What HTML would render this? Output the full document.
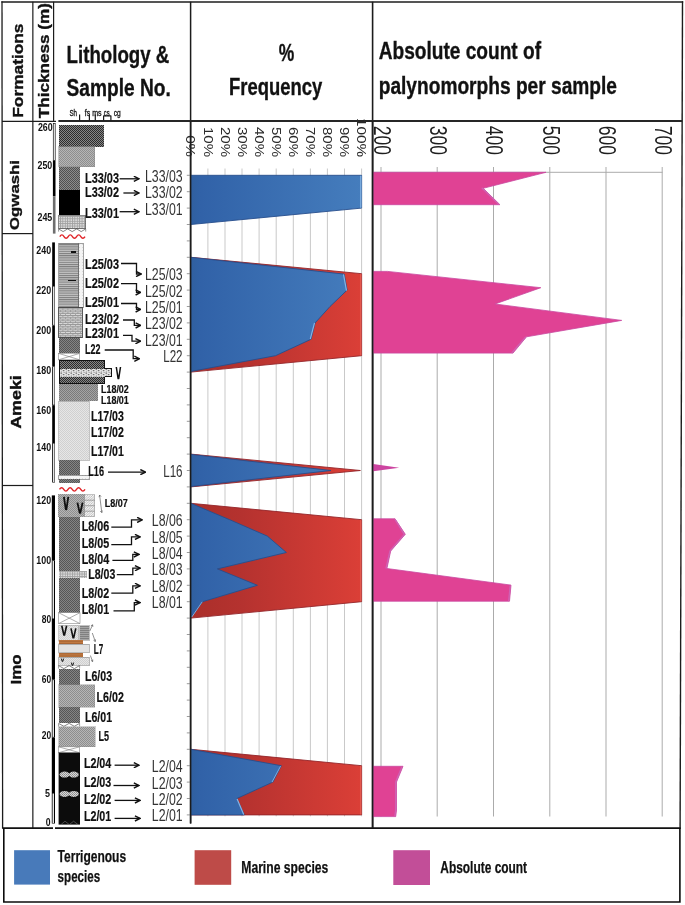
<!DOCTYPE html>
<html><head><meta charset="utf-8"><title>Chart</title>
<style>
html,body{margin:0;padding:0;background:#fff;}
svg{display:block;will-change:transform;}
text{font-family:"Liberation Sans",sans-serif;}
.b{font-weight:bold;}
.h{font-weight:bold;stroke:#111;stroke-width:0.35px;}
</style></head><body>
<svg width="685" height="905" viewBox="0 0 685 905">
<defs>
<linearGradient id="gb" gradientUnits="userSpaceOnUse" x1="190.8" y1="0" x2="361.6" y2="0">
<stop offset="0" stop-color="#30609f"/><stop offset="0.06" stop-color="#3162a8"/><stop offset="1" stop-color="#457dbd"/></linearGradient>
<linearGradient id="gr" gradientUnits="userSpaceOnUse" x1="190.8" y1="0" x2="361.6" y2="0">
<stop offset="0" stop-color="#aa2f2a"/><stop offset="0.3" stop-color="#b5322f"/><stop offset="1" stop-color="#db3f37"/></linearGradient>
<pattern id="pDark" width="2" height="2" patternUnits="userSpaceOnUse"><rect width="2" height="2" fill="#868686"/><rect width="1" height="1" fill="#2c2c2c"/><rect x="1" y="1" width="1" height="1" fill="#2c2c2c"/></pattern>
<pattern id="pLight" width="2" height="2" patternUnits="userSpaceOnUse"><rect width="2" height="2" fill="#b6b6b6"/><rect width="1" height="1" fill="#8e8e8e"/><rect x="1" y="1" width="1" height="1" fill="#8e8e8e"/></pattern>
<pattern id="pMed" width="2" height="2" patternUnits="userSpaceOnUse"><rect width="2" height="2" fill="#8c8c8c"/><rect width="1" height="1" fill="#505050"/><rect x="1" y="1" width="1" height="1" fill="#505050"/></pattern>
<pattern id="pMed2" width="2" height="2" patternUnits="userSpaceOnUse"><rect width="2" height="2" fill="#848484"/><rect width="1" height="1" fill="#565656"/><rect x="1" y="1" width="1" height="1" fill="#565656"/></pattern>
<pattern id="pGrid" width="2.4" height="2.4" patternUnits="userSpaceOnUse"><rect width="2.4" height="2.4" fill="#e2e2e2"/><rect width="2.4" height="0.9" fill="#a0a0a0"/><rect width="0.9" height="2.4" fill="#a0a0a0"/></pattern>
<pattern id="pHl" width="4" height="2.2" patternUnits="userSpaceOnUse"><rect width="4" height="2.2" fill="#c4c4c4"/><rect width="4" height="1" fill="#7a7a7a"/></pattern>
<pattern id="pBrick" width="5" height="3.6" patternUnits="userSpaceOnUse"><rect width="5" height="3.6" fill="#dcdcdc"/><rect width="5" height="0.8" fill="#8c8c8c"/><rect y="1.8" width="5" height="0.8" fill="#8c8c8c"/><rect x="0" width="0.8" height="1.8" fill="#999"/><rect x="2.5" y="1.8" width="0.8" height="1.8" fill="#999"/></pattern>
<pattern id="pDot" width="3" height="3" patternUnits="userSpaceOnUse"><rect width="3" height="3" fill="#f4f4f4"/><rect x="1" y="1" width="0.8" height="0.8" fill="#cfcfcf"/></pattern>
<pattern id="pVLight" width="2" height="2" patternUnits="userSpaceOnUse"><rect width="2" height="2" fill="#e6e6e6"/><rect width="1" height="1" fill="#d0d0d0"/><rect x="1" y="1" width="1" height="1" fill="#d0d0d0"/></pattern>
<pattern id="pStripe" width="4" height="2" patternUnits="userSpaceOnUse"><rect width="4" height="2" fill="#a4a4a4"/><rect width="4" height="1" fill="#808080"/></pattern>
<pattern id="pMid" width="2" height="2" patternUnits="userSpaceOnUse"><rect width="2" height="2" fill="#a4a4a4"/><rect width="1" height="1" fill="#7a7a7a"/><rect x="1" y="1" width="1" height="1" fill="#7a7a7a"/></pattern>
<pattern id="pHatch" width="2.4" height="2.4" patternUnits="userSpaceOnUse"><rect width="2.4" height="2.4" fill="#f6f6f6"/><path d="M-0.6 0.6L0.6 -0.6M0 2.4L2.4 0M1.8 3L3 1.8" stroke="#999" stroke-width="0.6"/></pattern>
<pattern id="pNod" width="2" height="2" patternUnits="userSpaceOnUse"><rect width="2" height="2" fill="#d8d8d8"/><rect width="1" height="1" fill="#8a8a8a"/><rect x="1" y="1" width="1" height="1" fill="#9a9a9a"/></pattern>
<pattern id="pX" width="4" height="4" patternUnits="userSpaceOnUse"><rect width="4" height="4" fill="#f4f4f4"/><path d="M0 0L4 4M4 0L0 4" stroke="#999" stroke-width="0.7"/></pattern>
<pattern id="pSpeck" width="5" height="4" patternUnits="userSpaceOnUse"><rect width="5" height="4" fill="#e8e8e8"/><rect x="0.5" y="0.6" width="1.6" height="1" fill="#4a4a4a"/><rect x="2.8" y="2.2" width="1.6" height="1" fill="#555"/><rect x="3.6" y="0.2" width="1" height="0.8" fill="#777"/><rect x="0.8" y="2.8" width="1" height="0.8" fill="#888"/></pattern>
<marker id="ah" viewBox="0 0 10 10" refX="8.5" refY="5" markerWidth="5" markerHeight="5" orient="auto-start-reverse"><path d="M1 1L9 5L1 9" fill="none" stroke="#111" stroke-width="2.2"/></marker>
</defs>
<rect width="685" height="905" fill="#fff"/>

<g stroke="#1c1c1c" fill="none">
<path d="M1.4 1.9H683.2" stroke-width="1.5"/>
<path d="M2.0 1.2L2.6 828.4" stroke-width="1.3"/>
<path d="M682.5 1.2L680.1 828.4" stroke-width="1.4"/>
<path d="M32.85 1.8V828" stroke-width="1.2"/>
<path d="M53.6 1.8V121.5" stroke-width="1.2"/>
<path d="M190.6 1.8V823.5" stroke-width="1.5"/>
<path d="M372.6 1.8V828" stroke-width="1.6"/>
<path d="M2 121.3H56" stroke-width="1.2"/>
<path d="M2 233.6H33" stroke-width="1.2"/>
<path d="M2 485.5H33" stroke-width="1.2"/>
<path d="M2.4 828.1H53 M55 828.1H680.6" stroke-width="1.6" stroke="#111"/>
<path d="M3.8 828V902H679.9V828" stroke-width="1.6" stroke="#0c0c0c"/>
</g>
<path d="M58.4 121H682" stroke="#262626" stroke-width="2"/>
<text class="h" transform="translate(23 117.7) rotate(-90)" font-size="14.4" textLength="94.2" lengthAdjust="spacingAndGlyphs" fill="#111">Formations</text>
<text class="h" transform="translate(49.2 118.2) rotate(-90)" font-size="14.4" textLength="115.2" lengthAdjust="spacingAndGlyphs" fill="#111">Thickness (m)</text>
<text class="h" transform="translate(19 230) rotate(-90)" font-size="13.6" textLength="70" lengthAdjust="spacingAndGlyphs" fill="#111">Ogwashi</text>
<text class="h" transform="translate(21 428.8) rotate(-90)" font-size="14.4" textLength="53.6" lengthAdjust="spacingAndGlyphs" fill="#111">Ameki</text>
<text class="h" transform="translate(21 684.5) rotate(-90)" font-size="14.4" textLength="30" lengthAdjust="spacingAndGlyphs" fill="#111">Imo</text>
<text class="h" x="66.6" y="63.0" font-size="24.2" textLength="102.7" lengthAdjust="spacingAndGlyphs" fill="#111" text-anchor="start">Lithology &amp;</text>
<text class="h" x="66.6" y="96.3" font-size="24.2" textLength="104.2" lengthAdjust="spacingAndGlyphs" fill="#111" text-anchor="start">Sample No.</text>
<text class="h" x="278.7" y="60.5" font-size="24.2" textLength="15.5" lengthAdjust="spacingAndGlyphs" fill="#111" text-anchor="start">%</text>
<text class="h" x="229.1" y="94.8" font-size="24.2" textLength="93.2" lengthAdjust="spacingAndGlyphs" fill="#111" text-anchor="start">Frequency</text>
<text class="h" x="378.7" y="59.2" font-size="24.4" textLength="162.3" lengthAdjust="spacingAndGlyphs" fill="#111" text-anchor="start">Absolute count of</text>
<text class="h" x="378.7" y="94.2" font-size="24.4" textLength="238.3" lengthAdjust="spacingAndGlyphs" fill="#111" text-anchor="start">palynomorphs per sample</text>
<g font-size="8.8" fill="#111" stroke="#111" stroke-width="0.3">
<text x="69.4" y="115.8" textLength="7.6" lengthAdjust="spacingAndGlyphs">Sh</text>
<text x="84.8" y="115.8" textLength="5.4" lengthAdjust="spacingAndGlyphs">fs</text>
<text x="92.2" y="115.8" textLength="9.4" lengthAdjust="spacingAndGlyphs">ms</text>
<text x="103.8" y="115.8" textLength="5.8" lengthAdjust="spacingAndGlyphs">cs</text>
<text x="113.8" y="115.8" textLength="7" lengthAdjust="spacingAndGlyphs">cg</text>
</g>
<path d="M79.6 114.6V120.5M89.4 114.6V120.5M95.3 114.6V120.5M103.6 115.4V120.5M110.9 115.4V120.5M103.6 115.9H110.9" stroke="#1a1a1a" stroke-width="1.2" fill="none"/>
<g stroke="#c9c9c9" stroke-width="1">
<path d="M207.9 168.5V816.3"/>
<path d="M225.0 168.5V816.3"/>
<path d="M242.0 168.5V816.3"/>
<path d="M259.1 168.5V816.3"/>
<path d="M276.2 168.5V816.3"/>
<path d="M293.3 168.5V816.3"/>
<path d="M310.4 168.5V816.3"/>
<path d="M327.4 168.5V816.3"/>
<path d="M344.5 168.5V816.3"/>
<path d="M361.6 168.5V816.3"/>
</g>
<g stroke="#9c9c9c" stroke-width="1">
<path d="M186.8 175.3H190.6"/>
<path d="M186.8 191.7H190.6"/>
<path d="M186.8 208.1H190.6"/>
<path d="M186.8 224.5H190.6"/>
<path d="M186.8 240.9H190.6"/>
<path d="M186.8 257.3H190.6"/>
<path d="M186.8 273.7H190.6"/>
<path d="M186.8 290.1H190.6"/>
<path d="M186.8 306.5H190.6"/>
<path d="M186.8 322.9H190.6"/>
<path d="M186.8 339.3H190.6"/>
<path d="M186.8 355.7H190.6"/>
<path d="M186.8 372.1H190.6"/>
<path d="M186.8 388.5H190.6"/>
<path d="M186.8 404.9H190.6"/>
<path d="M186.8 421.3H190.6"/>
<path d="M186.8 437.7H190.6"/>
<path d="M186.8 454.1H190.6"/>
<path d="M186.8 470.5H190.6"/>
<path d="M186.8 486.9H190.6"/>
<path d="M186.8 503.3H190.6"/>
<path d="M186.8 519.7H190.6"/>
<path d="M186.8 536.1H190.6"/>
<path d="M186.8 552.5H190.6"/>
<path d="M186.8 568.9H190.6"/>
<path d="M186.8 585.3H190.6"/>
<path d="M186.8 601.7H190.6"/>
<path d="M186.8 618.1H190.6"/>
<path d="M186.8 634.5H190.6"/>
<path d="M186.8 650.9H190.6"/>
<path d="M186.8 667.3H190.6"/>
<path d="M186.8 683.7H190.6"/>
<path d="M186.8 700.1H190.6"/>
<path d="M186.8 716.5H190.6"/>
<path d="M186.8 732.9H190.6"/>
<path d="M186.8 749.3H190.6"/>
<path d="M186.8 765.7H190.6"/>
<path d="M186.8 782.1H190.6"/>
<path d="M186.8 798.5H190.6"/>
<path d="M186.8 814.9H190.6"/>
</g>
<text transform="translate(186.4 157) rotate(90)" text-anchor="end" font-size="12.6" textLength="21.8" lengthAdjust="spacingAndGlyphs" fill="#2a2a2a">0%</text>
<text transform="translate(203.5 157) rotate(90)" text-anchor="end" font-size="12.6" textLength="30" lengthAdjust="spacingAndGlyphs" fill="#2a2a2a">10%</text>
<text transform="translate(220.6 157) rotate(90)" text-anchor="end" font-size="12.6" textLength="30" lengthAdjust="spacingAndGlyphs" fill="#2a2a2a">20%</text>
<text transform="translate(237.6 157) rotate(90)" text-anchor="end" font-size="12.6" textLength="30" lengthAdjust="spacingAndGlyphs" fill="#2a2a2a">30%</text>
<text transform="translate(254.7 157) rotate(90)" text-anchor="end" font-size="12.6" textLength="30" lengthAdjust="spacingAndGlyphs" fill="#2a2a2a">40%</text>
<text transform="translate(271.8 157) rotate(90)" text-anchor="end" font-size="12.6" textLength="30" lengthAdjust="spacingAndGlyphs" fill="#2a2a2a">50%</text>
<text transform="translate(288.9 157) rotate(90)" text-anchor="end" font-size="12.6" textLength="30" lengthAdjust="spacingAndGlyphs" fill="#2a2a2a">60%</text>
<text transform="translate(306.0 157) rotate(90)" text-anchor="end" font-size="12.6" textLength="30" lengthAdjust="spacingAndGlyphs" fill="#2a2a2a">70%</text>
<text transform="translate(323.0 157) rotate(90)" text-anchor="end" font-size="12.6" textLength="30" lengthAdjust="spacingAndGlyphs" fill="#2a2a2a">80%</text>
<text transform="translate(340.1 157) rotate(90)" text-anchor="end" font-size="12.6" textLength="30" lengthAdjust="spacingAndGlyphs" fill="#2a2a2a">90%</text>
<text transform="translate(357.2 157) rotate(90)" text-anchor="end" font-size="12.6" textLength="39" lengthAdjust="spacingAndGlyphs" fill="#2a2a2a">100%</text>
<polygon points="190.8,175.3 361.6,175.3 361.6,208.1 190.8,224.5" fill="url(#gb)" stroke="#274e8c" stroke-width="0.9" stroke-linejoin="round"/>
<path d="M360.8 175.8V207.8" stroke="#7fb0e0" stroke-width="1.4"/>
<polygon points="190.8,257.3 361.6,273.7 361.6,355.7 190.8,372.1" fill="url(#gr)" stroke="#94262a" stroke-width="0.9" stroke-linejoin="round"/>
<polygon points="190.8,257.3 344.2,274.1 347.1,290.1 330.0,306.5 315.1,322.9 311.0,339.3 275.5,355.7 190.8,371.5" fill="url(#gb)" stroke="#274e8c" stroke-width="0.9" stroke-linejoin="round"/>
<polygon points="190.8,454.1 360.4,470.5 190.8,486.9" fill="url(#gr)" stroke="#94262a" stroke-width="0.9" stroke-linejoin="round"/>
<polygon points="190.8,454.4 331.0,470.5 190.8,486.5" fill="url(#gb)" stroke="#274e8c" stroke-width="0.9" stroke-linejoin="round"/>
<polygon points="190.8,503.3 361.6,519.7 361.6,601.7 190.8,618.1" fill="url(#gr)" stroke="#94262a" stroke-width="0.9" stroke-linejoin="round"/>
<polygon points="190.8,503.3 229.7,519.7 267.3,536.1 286.4,552.5 217.4,568.9 257.4,585.3 202.6,601.7 190.8,617.6" fill="url(#gb)" stroke="#274e8c" stroke-width="0.9" stroke-linejoin="round"/>
<polygon points="190.8,749.3 361.6,765.7 361.6,814.9 190.8,814.9" fill="url(#gr)" stroke="#94262a" stroke-width="0.9" stroke-linejoin="round"/>
<polygon points="190.8,749.3 281.3,765.7 272.8,782.1 236.9,798.5 244.3,814.9 190.8,814.9" fill="url(#gb)" stroke="#274e8c" stroke-width="0.9" stroke-linejoin="round"/>
<path d="M343.6 274.9L346.4 290.1" stroke="#86b4e4" stroke-width="1.2" fill="none" stroke-linecap="round"/>
<path d="M314.4 323.4L310.4 338.7" stroke="#86b4e4" stroke-width="1.2" fill="none" stroke-linecap="round"/>
<path d="M237.2 799.3L243.5 814.1" stroke="#86b4e4" stroke-width="1.2" fill="none" stroke-linecap="round"/>
<path d="M280.4 766.5L272.2 781.8" stroke="#86b4e4" stroke-width="0.9" fill="none" stroke-linecap="round"/>
<path d="M202.0 602.1L192.0 616.7" stroke="#86b4e4" stroke-width="0.9" fill="none" stroke-linecap="round"/>
<path d="M360.9 274.5L360.9 354.9" stroke="#ec6a5e" stroke-width="1.0" fill="none" stroke-linecap="round"/>
<path d="M360.9 520.5L360.9 600.9" stroke="#ec6a5e" stroke-width="1.0" fill="none" stroke-linecap="round"/>
<path d="M360.9 766.5L360.9 814.1" stroke="#ec6a5e" stroke-width="1.0" fill="none" stroke-linecap="round"/>
<path d="M190.6 121V823.5" stroke="#1c1c1c" stroke-width="1.5"/>
<g stroke="#a6a6a6" stroke-width="0.95">
<path d="M381.0 167V816.5"/>
<path d="M437.2 167V816.5"/>
<path d="M493.5 167V816.5"/>
<path d="M549.8 167V816.5"/>
<path d="M606.0 167V816.5"/>
<path d="M662.2 167V816.5"/>
<path d="M373 172.3H662.5"/>
</g>
<text transform="translate(373.8 125.7) rotate(90)" font-size="23.6" textLength="29.3" lengthAdjust="spacingAndGlyphs" fill="#1e1e1e">200</text>
<text transform="translate(430.1 125.7) rotate(90)" font-size="23.6" textLength="29.3" lengthAdjust="spacingAndGlyphs" fill="#1e1e1e">300</text>
<text transform="translate(486.3 125.7) rotate(90)" font-size="23.6" textLength="29.3" lengthAdjust="spacingAndGlyphs" fill="#1e1e1e">400</text>
<text transform="translate(542.5 125.7) rotate(90)" font-size="23.6" textLength="29.3" lengthAdjust="spacingAndGlyphs" fill="#1e1e1e">500</text>
<text transform="translate(598.8 125.7) rotate(90)" font-size="23.6" textLength="29.3" lengthAdjust="spacingAndGlyphs" fill="#1e1e1e">600</text>
<text transform="translate(655.0 125.7) rotate(90)" font-size="23.6" textLength="29.3" lengthAdjust="spacingAndGlyphs" fill="#1e1e1e">700</text>
<polygon points="373.2,172.3 546.0,172.3 483.2,188.3 499.9,204.7 373.2,204.7" fill="#e04294" stroke="#c9479f" stroke-width="0.8" stroke-linejoin="round"/>
<polygon points="373.2,271.4 387.5,271.4 540.8,287.7 495.0,304.0 621.7,320.4 526.5,336.8 513.0,353.1 373.2,353.1" fill="#e04294" stroke="#c9479f" stroke-width="0.8" stroke-linejoin="round"/>
<polygon points="373.2,463.9 399.2,467.7 373.2,471.2" fill="#cc44a0" />
<polygon points="373.2,518.8 395.0,518.8 405.3,534.3 390.7,551.0 386.9,568.5 511.0,585.1 509.5,601.2 373.2,601.2" fill="#e04294" stroke="#c9479f" stroke-width="0.8" stroke-linejoin="round"/>
<polygon points="373.2,766.3 403.0,766.3 396.5,782.0 396.5,810.0 395.7,816.6 373.2,816.6" fill="#e04294" stroke="#c9479f" stroke-width="0.8" stroke-linejoin="round"/>
<path d="M482.2 188.3L498.7 204.2" stroke="#cf62b4" stroke-width="1.3" fill="none" stroke-linecap="round"/>
<path d="M525.5 337.2L512.0 352.6" stroke="#cf62b4" stroke-width="1.3" fill="none" stroke-linecap="round"/>
<path d="M395.0 519.4L404.3 534.3L389.9 551.0L386.1 568.0" stroke="#cf62b4" stroke-width="1.3" fill="none" stroke-linecap="round"/>
<path d="M510.2 585.8L508.7 600.6" stroke="#cf62b4" stroke-width="1.3" fill="none" stroke-linecap="round"/>
<path d="M401.8 767.0L395.7 782.0L395.7 810.0L394.9 816.0" stroke="#cf62b4" stroke-width="1.3" fill="none" stroke-linecap="round"/>
<path d="M372.6 121V828" stroke="#1c1c1c" stroke-width="1.6"/><g shape-rendering="crispEdges">
<rect x="58.6" y="125.0" width="45.6" height="21.5" fill="url(#pDark)"/>
<rect x="58.6" y="146.5" width="36.3" height="20.2" fill="url(#pLight)" stroke="#8a8a8a" stroke-width="0.5"/>
<rect x="58.6" y="166.7" width="21.0" height="23.1" fill="url(#pMed)"/>
<rect x="58.6" y="189.8" width="21.2" height="25.4" fill="#000"/>
<rect x="58.6" y="215.8" width="27.1" height="12.9" fill="url(#pGrid)" stroke="#555" stroke-width="0.7"/>
</g>
<path d="M58.6 228.9L63.1 231.6L67.6 228.9L72.2 231.6L76.7 228.9L81.2 231.6L85.7 228.9" stroke="#333" stroke-width="0.6" fill="none"/>
<path d="M58.6 228.9V231.6M85.7 228.9V231.6" stroke="#555" stroke-width="0.6"/>
<path d="M59.8 236.6q2.10 -3.4 4.20 0t4.20 0q2.10 -3.4 4.20 0t4.20 0q2.10 -3.4 4.20 0t4.20 0" stroke="#e02226" stroke-width="1.4" fill="none"/>
<g shape-rendering="crispEdges">
<rect x="58.6" y="243.3" width="20.0" height="64.0" fill="url(#pHl)" stroke="#666" stroke-width="0.6"/>
<rect x="78.6" y="243.3" width="4.7" height="64.0" fill="url(#pDot)" stroke="#666" stroke-width="0.6"/>
<path d="M70.9 252H75.8M68.3 280.5H75.6" stroke="#111" stroke-width="1.4"/>
<rect x="58.6" y="307.6" width="23.8" height="29.9" fill="url(#pBrick)" stroke="#333" stroke-width="0.8"/>
<rect x="58.6" y="337.5" width="21.0" height="15.7" fill="url(#pMed2)"/>
</g>
<rect x="58.6" y="353.4" width="21.0" height="6.4" fill="#fff" stroke="#888" stroke-width="0.6"/>
<path d="M58.6 353.4L79.6 359.8M79.6 353.4L58.6 359.8" stroke="#777" stroke-width="0.6"/>
<g shape-rendering="crispEdges">
<rect x="59.2" y="360.6" width="45.2" height="22.6" fill="url(#pDark)" stroke="#111" stroke-width="1.4"/>
<rect x="60.4" y="368.6" width="50.8" height="8.3" fill="url(#pSpeck)"/>
<path d="M104.6 368.8H111.4V376.8H104.6" stroke="#111" stroke-width="1.1" fill="none"/>
<rect x="58.6" y="384.0" width="39.1" height="17.2" fill="url(#pMid)"/>
<rect x="58.6" y="401.4" width="30.4" height="58.7" fill="url(#pVLight)" stroke="#999" stroke-width="0.6"/>
<rect x="58.6" y="460.1" width="21.0" height="14.9" fill="url(#pMed2)"/>
<rect x="58.6" y="475.3" width="30.4" height="3.9" fill="url(#pDot)" stroke="#666" stroke-width="0.6"/>
<rect x="58.6" y="479.4" width="21.0" height="3.7" fill="url(#pMed2)"/>
</g>
<path d="M116.3 367.0L118.1 378.6L118.7 378.6L120.5 367.0" stroke="#111" stroke-width="1.5" fill="none" stroke-linejoin="round"/>
<path d="M59.5 489.4q2.12 -3.4 4.25 0t4.25 0q2.12 -3.4 4.25 0t4.25 0q2.12 -3.4 4.25 0t4.25 0" stroke="#e02226" stroke-width="1.4" fill="none"/>
<g shape-rendering="crispEdges">
<rect x="58.3" y="494.3" width="26.5" height="22.7" fill="url(#pLight)"/>
<rect x="84.8" y="494.6" width="10.0" height="22.2" fill="url(#pHatch)" stroke="#999" stroke-width="0.6"/>
<rect x="58.6" y="516.8" width="21.0" height="54.1" fill="url(#pMed2)"/>
<rect x="58.6" y="570.9" width="28.6" height="7.0" fill="url(#pGrid)"/>
<rect x="58.6" y="577.9" width="21.0" height="34.6" fill="url(#pMed2)"/>
</g>
<path d="M84.8 500.2H94.8M84.8 505.7H94.8M84.8 511.2H94.8" stroke="#888" stroke-width="0.7"/>
<path d="M63.9 496.8L65.8 509.4L66.4 509.4L68.3 496.8" stroke="#111" stroke-width="1.8" fill="none" stroke-linejoin="round"/>
<path d="M77.4 502.6L79.7 512.8L80.3 512.8L82.6 502.6" stroke="#111" stroke-width="1.8" fill="none" stroke-linejoin="round"/>
<rect x="58.6" y="612.7" width="21.4" height="10.9" fill="#fff" stroke="#888" stroke-width="0.6"/>
<path d="M58.6 612.7L80 623.6M80 612.7L58.6 623.6" stroke="#777" stroke-width="0.6"/>
<g shape-rendering="crispEdges">
<rect x="58.6" y="625.1" width="19.9" height="14.9" fill="url(#pVLight)" stroke="#999" stroke-width="0.5"/>
<rect x="79.6" y="625.8" width="9.4" height="14.2" fill="url(#pStripe)" stroke="#888" stroke-width="0.5"/>
<rect x="58.6" y="640.2" width="24.4" height="4.4" fill="#c47c44"/>
<rect x="58.6" y="644.4" width="30.4" height="7.7" fill="#e2e2e2" stroke="#888" stroke-width="0.6"/>
<rect x="58.6" y="652.6" width="24.4" height="4.6" fill="#c47c44"/>
<rect x="58.6" y="657.1" width="30.4" height="8.1" fill="url(#pVLight)" stroke="#888" stroke-width="0.6"/>
</g>
<path d="M58.6 641.2H83M58.6 643.4H83M58.6 653.8H83M58.6 656H83" stroke="#8e5226" stroke-width="0.6"/>
<path d="M61.8 625.8L63.9 635.0L64.5 635.0L66.6 625.8" stroke="#111" stroke-width="1.6" fill="none" stroke-linejoin="round"/>
<path d="M71.0 628.4L73.1 637.7L73.7 637.7L75.8 628.4" stroke="#111" stroke-width="1.6" fill="none" stroke-linejoin="round"/>
<path d="M61.4 658.6L62.2 661.4L62.8 661.4L63.6 658.6" stroke="#111" stroke-width="1" fill="none" stroke-linejoin="round"/>
<path d="M71.4 662.6L72.2 665.4L72.8 665.4L73.6 662.6" stroke="#111" stroke-width="1" fill="none" stroke-linejoin="round"/>
<path d="M58.6 665.6L63.9 668.6L69.1 665.6L74.3 668.6L79.6 665.6" stroke="#333" stroke-width="0.6" fill="none"/>
<path d="M58.6 665.6V668.6M79.6 665.6V668.6" stroke="#555" stroke-width="0.6"/>
<g shape-rendering="crispEdges">
<rect x="58.6" y="668.9" width="21.0" height="16.0" fill="url(#pMed2)"/>
<rect x="58.6" y="684.9" width="36.3" height="22.4" fill="url(#pLight)" stroke="#8a8a8a" stroke-width="0.4"/>
<rect x="58.6" y="707.3" width="21.0" height="15.9" fill="url(#pMed2)"/>
</g>
<path d="M58.6 723.4L63.9 726.3L69.1 723.4L74.3 726.3L79.6 723.4" stroke="#333" stroke-width="0.6" fill="none"/>
<path d="M58.6 723.4V726.3M79.6 723.4V726.3" stroke="#555" stroke-width="0.6"/>
<g shape-rendering="crispEdges">
<rect x="58.6" y="726.5" width="36.7" height="20.1" fill="url(#pLight)" stroke="#8a8a8a" stroke-width="0.4"/>
</g>
<rect x="58.6" y="746.8" width="21.0" height="5.9" fill="#fff" stroke="#888" stroke-width="0.6"/>
<path d="M58.6 746.8L79.6 752.7M79.6 746.8L58.6 752.7" stroke="#777" stroke-width="0.6"/>
<rect x="58.6" y="752.7" width="21.4" height="71.9" fill="#0c0c0c"/>
<ellipse cx="64.6" cy="774.6" rx="5" ry="3" fill="url(#pNod)"/>
<ellipse cx="73.8" cy="774.6" rx="5" ry="3" fill="url(#pNod)"/>
<ellipse cx="64.6" cy="793.9" rx="5" ry="3" fill="url(#pNod)"/>
<ellipse cx="73.8" cy="793.9" rx="5" ry="3" fill="url(#pNod)"/>
<path d="M61 824.6L65 821.2L69.3 824.6L73.6 821.2L78 824.6" stroke="#888" stroke-width="0.5" fill="none"/>
<g stroke="#555" stroke-width="0.65" fill="none">
<path d="M99.6 495L101.8 512.6M99.6 495l-0.6 2.2M99.6 495l1.5 1.6M101.8 512.6l-1.6-1.6M101.8 512.6l0.4-2.2"/>
<path d="M89.8 631L92.6 624.8M92.6 624.8l-1.7 1M92.6 624.8l0.3 2M92.3 633L95.3 641.5M95.3 641.5l-1.8-1.2M95.3 641.5l0.2-2.1M90.4 655.5L92.6 661.6M92.6 661.6l-1.6-1.2M92.6 661.6l0.2-2"/>
</g>
<rect x="53.3" y="123.6" width="1.9" height="37.0" fill="#fff" stroke="#111" stroke-width="0.7"/>
<rect x="52.9" y="160.6" width="2.6" height="35.6" fill="#000"/>
<rect x="52.9" y="196.2" width="2.6" height="37.4" fill="#6e6e6e"/>
<rect x="52.2" y="242.4" width="2.7" height="43.6" fill="#000"/>
<rect x="52.2" y="286" width="2.7" height="39.4" fill="#000"/>
<rect x="53.1" y="286.5" width="1.3" height="38.4" fill="#fff"/>
<rect x="52.2" y="325.4" width="2.7" height="41.0" fill="#000"/>
<rect x="52.2" y="366.4" width="2.7" height="38.8" fill="#000"/>
<rect x="53.1" y="366.9" width="1.3" height="37.8" fill="#fff"/>
<rect x="52.2" y="405.2" width="2.7" height="37.8" fill="#000"/>
<rect x="52.2" y="443" width="2.7" height="39.5" fill="#000"/>
<rect x="53.1" y="443.5" width="1.3" height="38.5" fill="#fff"/>
<rect x="51.8" y="495.4" width="3.2" height="65.1" fill="#000"/>
<rect x="51.8" y="560.5" width="3.2" height="58.5" fill="#000"/>
<rect x="52.6" y="561.0" width="1.3" height="57.5" fill="#fff"/>
<rect x="51.8" y="619" width="3.2" height="60.6" fill="#000"/>
<rect x="51.8" y="679.6" width="3.2" height="57.8" fill="#000"/>
<rect x="52.6" y="680.1" width="1.3" height="56.8" fill="#fff"/>
<rect x="51.8" y="737.4" width="3.2" height="55.6" fill="#000"/>
<rect x="51.8" y="793" width="3.2" height="30.5" fill="#000"/>
<rect x="52.6" y="793.5" width="1.3" height="29.5" fill="#fff"/>
<text class="b" x="37.9" y="131.3" font-size="10.8" textLength="14.8" lengthAdjust="spacingAndGlyphs" fill="#111">260</text>
<text class="b" x="37.5" y="169.1" font-size="10.8" textLength="14.8" lengthAdjust="spacingAndGlyphs" fill="#111">250</text>
<text class="b" x="37.5" y="221" font-size="10.8" textLength="14.8" lengthAdjust="spacingAndGlyphs" fill="#111">245</text>
<text class="b" x="36.3" y="253.6" font-size="10.8" textLength="14.8" lengthAdjust="spacingAndGlyphs" fill="#111">240</text>
<text class="b" x="36.3" y="294.1" font-size="10.8" textLength="14.8" lengthAdjust="spacingAndGlyphs" fill="#111">220</text>
<text class="b" x="36.3" y="333.8" font-size="10.8" textLength="14.8" lengthAdjust="spacingAndGlyphs" fill="#111">200</text>
<text class="b" x="36.3" y="373.7" font-size="10.8" textLength="14.8" lengthAdjust="spacingAndGlyphs" fill="#111">180</text>
<text class="b" x="36.3" y="413.6" font-size="10.8" textLength="14.8" lengthAdjust="spacingAndGlyphs" fill="#111">160</text>
<text class="b" x="36.3" y="451.4" font-size="10.8" textLength="14.8" lengthAdjust="spacingAndGlyphs" fill="#111">140</text>
<text class="b" x="36.3" y="504.4" font-size="10.8" textLength="14.8" lengthAdjust="spacingAndGlyphs" fill="#111">120</text>
<text class="b" x="36.3" y="564.2" font-size="10.8" textLength="14.8" lengthAdjust="spacingAndGlyphs" fill="#111">100</text>
<text class="b" x="41.7" y="623" font-size="10.8" textLength="9.4" lengthAdjust="spacingAndGlyphs" fill="#111">80</text>
<text class="b" x="41.7" y="682.8" font-size="10.8" textLength="9.4" lengthAdjust="spacingAndGlyphs" fill="#111">60</text>
<text class="b" x="41.7" y="738.8" font-size="10.8" textLength="9.4" lengthAdjust="spacingAndGlyphs" fill="#111">20</text>
<text class="b" x="45.0" y="796.6" font-size="10.8" textLength="5" lengthAdjust="spacingAndGlyphs" fill="#111">5</text>
<text class="b" x="45.8" y="826" font-size="10.8" textLength="4.8" lengthAdjust="spacingAndGlyphs" fill="#111">0</text>
<text class="b" stroke="#111" stroke-width="0.2" x="85" y="183.2" font-size="13.8" textLength="34" lengthAdjust="spacingAndGlyphs" fill="#111">L33/03</text>
<text class="b" stroke="#111" stroke-width="0.2" x="85" y="197.4" font-size="13.8" textLength="34" lengthAdjust="spacingAndGlyphs" fill="#111">L33/02</text>
<text class="b" stroke="#111" stroke-width="0.2" x="85" y="218.2" font-size="13.8" textLength="34" lengthAdjust="spacingAndGlyphs" fill="#111">L33/01</text>
<text class="b" stroke="#111" stroke-width="0.2" x="85" y="269.4" font-size="13.8" textLength="34" lengthAdjust="spacingAndGlyphs" fill="#111">L25/03</text>
<text class="b" stroke="#111" stroke-width="0.2" x="85" y="288.2" font-size="13.8" textLength="34" lengthAdjust="spacingAndGlyphs" fill="#111">L25/02</text>
<text class="b" stroke="#111" stroke-width="0.2" x="85" y="307.3" font-size="13.8" textLength="34" lengthAdjust="spacingAndGlyphs" fill="#111">L25/01</text>
<text class="b" stroke="#111" stroke-width="0.2" x="85" y="323.7" font-size="13.8" textLength="34" lengthAdjust="spacingAndGlyphs" fill="#111">L23/02</text>
<text class="b" stroke="#111" stroke-width="0.2" x="85" y="338.4" font-size="13.8" textLength="34" lengthAdjust="spacingAndGlyphs" fill="#111">L23/01</text>
<text class="b" stroke="#111" stroke-width="0.2" x="85" y="354.3" font-size="13.8" textLength="15.4" lengthAdjust="spacingAndGlyphs" fill="#111">L22</text>
<text class="b" stroke="#111" stroke-width="0.2" x="101" y="392.9" font-size="10.4" textLength="27.8" lengthAdjust="spacingAndGlyphs" fill="#111">L18/02</text>
<text class="b" stroke="#111" stroke-width="0.2" x="101" y="403.6" font-size="10.4" textLength="27.8" lengthAdjust="spacingAndGlyphs" fill="#111">L18/01</text>
<text class="b" stroke="#111" stroke-width="0.2" x="91" y="421.1" font-size="13.8" textLength="32.8" lengthAdjust="spacingAndGlyphs" fill="#111">L17/03</text>
<text class="b" stroke="#111" stroke-width="0.2" x="91" y="436.5" font-size="13.8" textLength="32.8" lengthAdjust="spacingAndGlyphs" fill="#111">L17/02</text>
<text class="b" stroke="#111" stroke-width="0.2" x="91" y="455.7" font-size="13.8" textLength="32.8" lengthAdjust="spacingAndGlyphs" fill="#111">L17/01</text>
<text class="b" stroke="#111" stroke-width="0.2" x="88.3" y="475.9" font-size="13.8" textLength="15.7" lengthAdjust="spacingAndGlyphs" fill="#111">L16</text>
<text class="b" stroke="#111" stroke-width="0.2" x="104.7" y="506.7" font-size="10.4" textLength="23" lengthAdjust="spacingAndGlyphs" fill="#111">L8/07</text>
<text class="b" stroke="#111" stroke-width="0.2" x="81.7" y="531" font-size="13.8" textLength="27.4" lengthAdjust="spacingAndGlyphs" fill="#111">L8/06</text>
<text class="b" stroke="#111" stroke-width="0.2" x="81.7" y="547.9" font-size="13.8" textLength="27.4" lengthAdjust="spacingAndGlyphs" fill="#111">L8/05</text>
<text class="b" stroke="#111" stroke-width="0.2" x="81.7" y="563.9" font-size="13.8" textLength="27.4" lengthAdjust="spacingAndGlyphs" fill="#111">L8/04</text>
<text class="b" stroke="#111" stroke-width="0.2" x="88.3" y="578.5" font-size="13.8" textLength="27" lengthAdjust="spacingAndGlyphs" fill="#111">L8/03</text>
<text class="b" stroke="#111" stroke-width="0.2" x="81.7" y="597.6" font-size="13.8" textLength="27.4" lengthAdjust="spacingAndGlyphs" fill="#111">L8/02</text>
<text class="b" stroke="#111" stroke-width="0.2" x="81.7" y="614" font-size="13.8" textLength="27.4" lengthAdjust="spacingAndGlyphs" fill="#111">L8/01</text>
<text class="b" stroke="#111" stroke-width="0.2" x="93.8" y="653.6" font-size="13.8" textLength="9.4" lengthAdjust="spacingAndGlyphs" fill="#111">L7</text>
<text class="b" stroke="#111" stroke-width="0.2" x="85" y="680.5" font-size="13.8" textLength="27" lengthAdjust="spacingAndGlyphs" fill="#111">L6/03</text>
<text class="b" stroke="#111" stroke-width="0.2" x="96.6" y="702.4" font-size="13.8" textLength="27.2" lengthAdjust="spacingAndGlyphs" fill="#111">L6/02</text>
<text class="b" stroke="#111" stroke-width="0.2" x="85" y="722.1" font-size="13.8" textLength="27" lengthAdjust="spacingAndGlyphs" fill="#111">L6/01</text>
<text class="b" stroke="#111" stroke-width="0.2" x="98.6" y="740.8" font-size="13.8" textLength="10.5" lengthAdjust="spacingAndGlyphs" fill="#111">L5</text>
<text class="b" stroke="#111" stroke-width="0.2" x="83.9" y="768" font-size="13.8" textLength="27.4" lengthAdjust="spacingAndGlyphs" fill="#111">L2/04</text>
<text class="b" stroke="#111" stroke-width="0.2" x="83.9" y="786.6" font-size="13.8" textLength="27.4" lengthAdjust="spacingAndGlyphs" fill="#111">L2/03</text>
<text class="b" stroke="#111" stroke-width="0.2" x="83.9" y="803.7" font-size="13.8" textLength="27.4" lengthAdjust="spacingAndGlyphs" fill="#111">L2/02</text>
<text class="b" stroke="#111" stroke-width="0.2" x="83.9" y="820.6" font-size="13.8" textLength="27.4" lengthAdjust="spacingAndGlyphs" fill="#111">L2/01</text>
<g stroke="#111" stroke-width="1.3" fill="none" marker-end="url(#ah)">
<path d="M119.6 178.8H138.7"/>
<path d="M123.4 193H138.7"/>
<path d="M119.6 211.7H138.7"/>
<path d="M121 263.5H136.5V274H140.9"/>
<path d="M121 283.6H136.5V292.4H140.5"/>
<path d="M121 303.5H136.5V309.4H140.5"/>
<path d="M123 320H134.3V325.4H140.5"/>
<path d="M123 335.3H132V341.2H140.3"/>
<path d="M104.7 350H133.2V358.7H139.2"/>
<path d="M108 472.1H145.2"/>
<path d="M111.3 527.1H131.5V519.9H142"/>
<path d="M111.3 544.6H131.5V536.9H139.8"/>
<path d="M112.4 560.4H132.8V554.4H138.7"/>
<path d="M116.8 574.6H132.8V568.2H139.8"/>
<path d="M111.3 593.2H132.8V585.8H139.8"/>
<path d="M113.5 610.9H134.3V602.6H139.8"/>
<path d="M114.6 765.2H138.7"/>
<path d="M113.5 785.5H138.7"/>
<path d="M114.6 800.4H139.8"/>
<path d="M114.6 818.4H139.8"/>
</g>
<text x="145.0" y="181.7" font-size="16.4" textLength="37.6" lengthAdjust="spacingAndGlyphs" fill="#333">L33/03</text>
<text x="145.0" y="198.1" font-size="16.4" textLength="37.6" lengthAdjust="spacingAndGlyphs" fill="#333">L33/02</text>
<text x="145.0" y="214.5" font-size="16.4" textLength="37.6" lengthAdjust="spacingAndGlyphs" fill="#333">L33/01</text>
<text x="145.0" y="280.1" font-size="16.4" textLength="37.6" lengthAdjust="spacingAndGlyphs" fill="#333">L25/03</text>
<text x="145.0" y="296.5" font-size="16.4" textLength="37.6" lengthAdjust="spacingAndGlyphs" fill="#333">L25/02</text>
<text x="145.0" y="312.9" font-size="16.4" textLength="37.6" lengthAdjust="spacingAndGlyphs" fill="#333">L25/01</text>
<text x="145.0" y="329.3" font-size="16.4" textLength="37.6" lengthAdjust="spacingAndGlyphs" fill="#333">L23/02</text>
<text x="145.0" y="345.7" font-size="16.4" textLength="37.6" lengthAdjust="spacingAndGlyphs" fill="#333">L23/01</text>
<text x="163.2" y="362.1" font-size="16.4" textLength="19.4" lengthAdjust="spacingAndGlyphs" fill="#333">L22</text>
<text x="163.2" y="476.9" font-size="16.4" textLength="19.4" lengthAdjust="spacingAndGlyphs" fill="#333">L16</text>
<text x="151.8" y="526.1" font-size="16.4" textLength="30.8" lengthAdjust="spacingAndGlyphs" fill="#333">L8/06</text>
<text x="151.8" y="542.5" font-size="16.4" textLength="30.8" lengthAdjust="spacingAndGlyphs" fill="#333">L8/05</text>
<text x="151.8" y="558.9" font-size="16.4" textLength="30.8" lengthAdjust="spacingAndGlyphs" fill="#333">L8/04</text>
<text x="151.8" y="575.3" font-size="16.4" textLength="30.8" lengthAdjust="spacingAndGlyphs" fill="#333">L8/03</text>
<text x="151.8" y="591.7" font-size="16.4" textLength="30.8" lengthAdjust="spacingAndGlyphs" fill="#333">L8/02</text>
<text x="151.8" y="608.1" font-size="16.4" textLength="30.8" lengthAdjust="spacingAndGlyphs" fill="#333">L8/01</text>
<text x="151.8" y="772.1" font-size="16.4" textLength="30.8" lengthAdjust="spacingAndGlyphs" fill="#333">L2/04</text>
<text x="151.8" y="788.5" font-size="16.4" textLength="30.8" lengthAdjust="spacingAndGlyphs" fill="#333">L2/03</text>
<text x="151.8" y="804.9" font-size="16.4" textLength="30.8" lengthAdjust="spacingAndGlyphs" fill="#333">L2/02</text>
<text x="151.8" y="821.3" font-size="16.4" textLength="30.8" lengthAdjust="spacingAndGlyphs" fill="#333">L2/01</text>
<rect x="14.1" y="850.2" width="35.9" height="34.4" fill="#487aba"/>
<rect x="194.6" y="850.2" width="36.6" height="34.6" fill="#be4b48"/>
<rect x="393.3" y="850.2" width="36.7" height="34.8" fill="#c24e98"/>
<text class="h" x="57.6" y="861.5" font-size="15.6" textLength="68.5" lengthAdjust="spacingAndGlyphs" fill="#111" style="stroke-width:0.25px">Terrigenous</text>
<text class="h" x="57.6" y="882.3" font-size="15.6" textLength="42.6" lengthAdjust="spacingAndGlyphs" fill="#111" style="stroke-width:0.25px">species</text>
<text class="h" x="241.3" y="873" font-size="15.6" textLength="87" lengthAdjust="spacingAndGlyphs" fill="#111" style="stroke-width:0.25px">Marine species</text>
<text class="h" x="440.3" y="872.6" font-size="15.6" textLength="86.8" lengthAdjust="spacingAndGlyphs" fill="#111" style="stroke-width:0.25px">Absolute count</text>
</svg></body></html>
